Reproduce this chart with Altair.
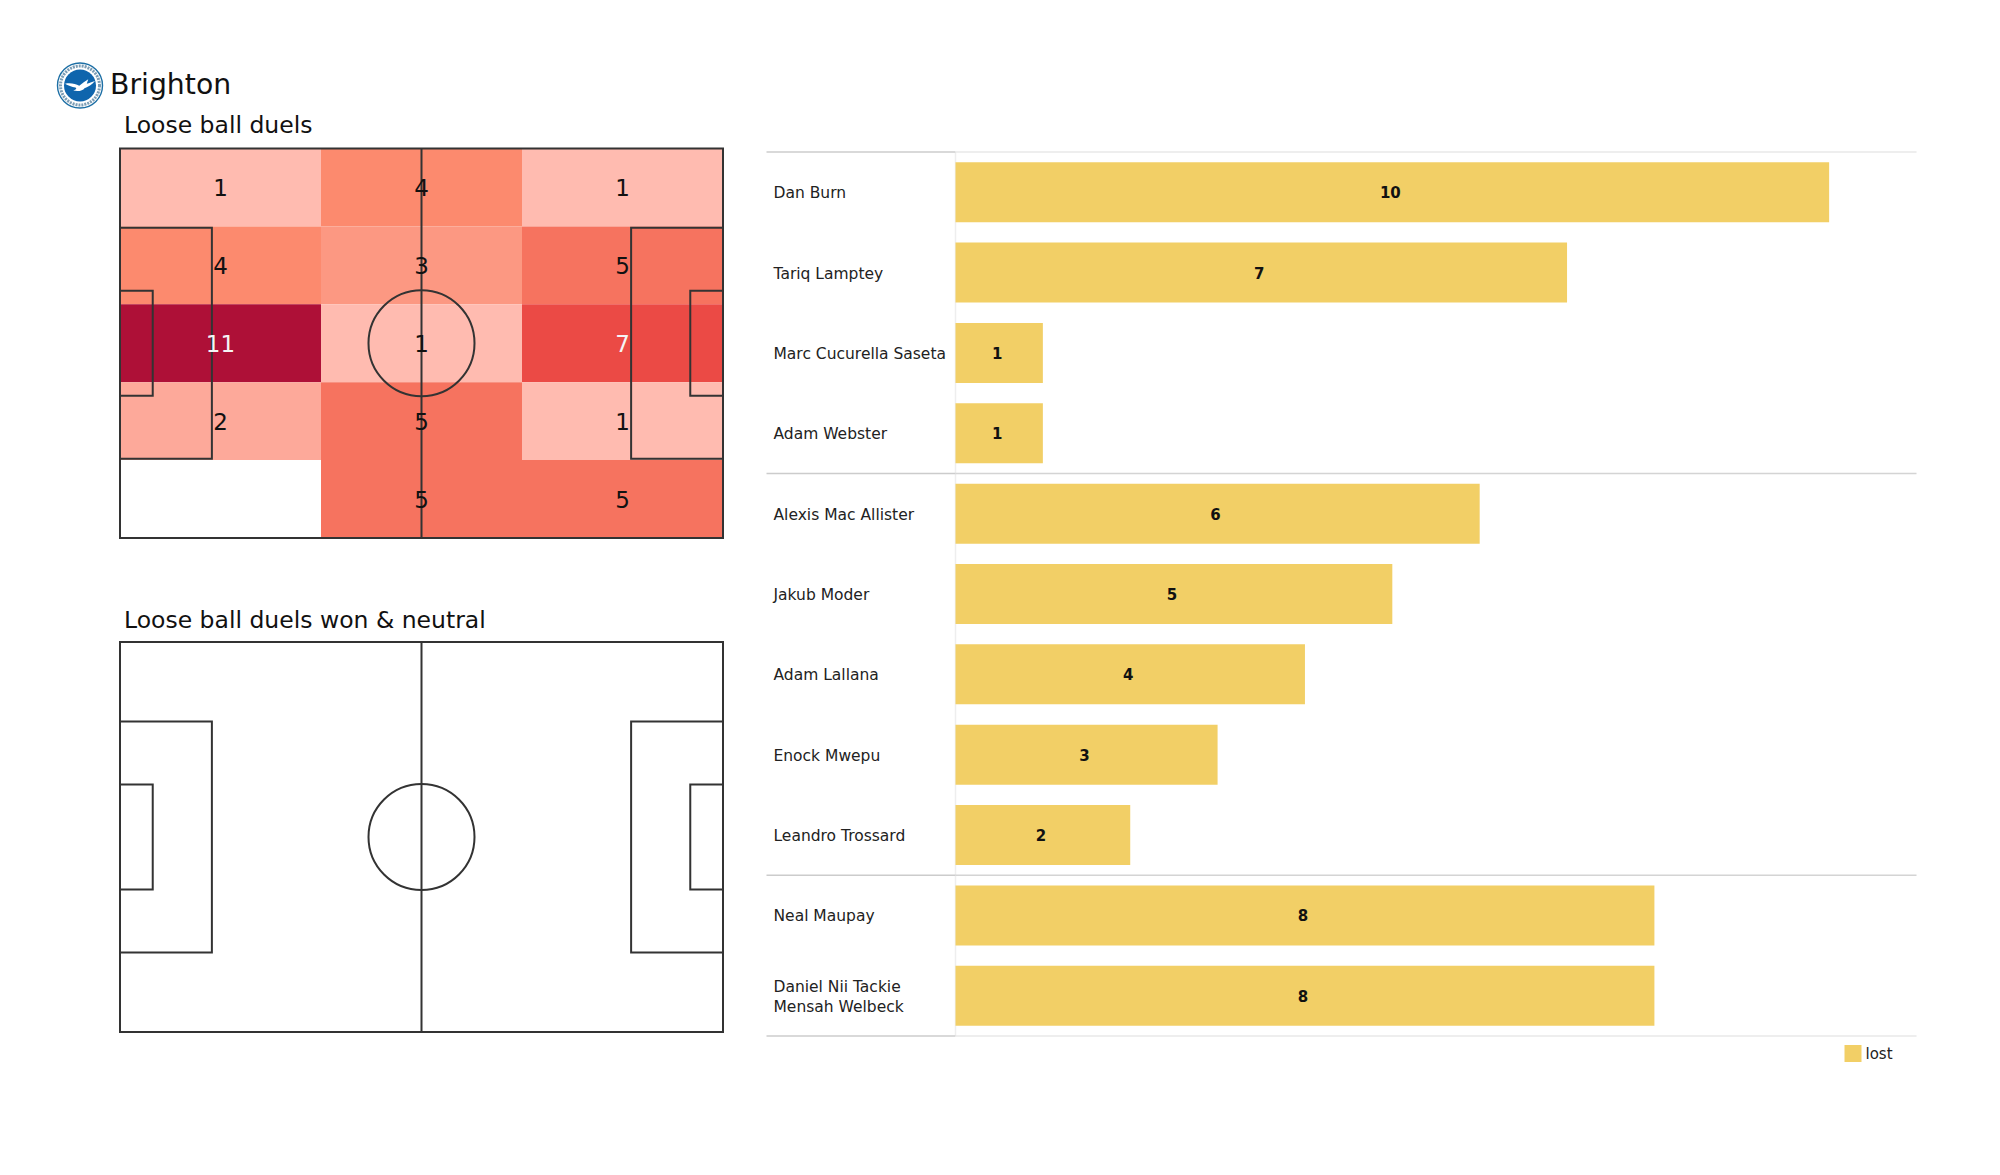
import altair as alt
import pandas as pd

FONT = "DejaVu Sans"
INK = "#333333"

# heat grid: rows top to bottom, columns left to right
cell_x0 = [0, 35, 70]
cell_x1 = [35, 70, 105]
cell_y1 = [68, 54.4, 40.8, 27.2, 13.6]
cell_y0 = [54.4, 40.8, 27.2, 13.6, 0]
row_counts = [
    [1, 4, 1],
    [4, 3, 5],
    [11, 1, 7],
    [2, 5, 1],
    [0, 5, 5],
]
heat_domain = [0, 1, 2, 3, 4, 5, 7, 11]
heat_colors = ["#ffffff", "#ffbbb0", "#fda99a", "#fc9882", "#fc8a6e", "#f6735f", "#eb4a45", "#ae1037"]

# pitch markings in metres
box_x0 = [0, 0, 0, 89, 99.3]
box_x1 = [105, 16, 5.7, 105, 105]
box_y0 = [0, 13.84, 24.84, 13.84, 24.84]
box_y1 = [68, 54.16, 43.16, 54.16, 43.16]

# bars
players = ["Dan Burn", "Tariq Lamptey", "Marc Cucurella Saseta", "Adam Webster",
           "Alexis Mac Allister", "Jakub Moder", "Adam Lallana", "Enock Mwepu",
           "Leandro Trossard", "Neal Maupay", "Daniel Nii Tackie\nMensah Welbeck"]
lost = [10, 7, 1, 1, 6, 5, 4, 3, 2, 8, 8]
BAR_COLOR = "#f2cf66"
inner_separators = [4, 9]
outer_separators = [0, 11]

cells = pd.DataFrame([
    {"x0": cell_x0[c], "x1": cell_x1[c], "y0": cell_y0[r], "y1": cell_y1[r],
     "xm": (cell_x0[c] + cell_x1[c]) / 2, "ym": (cell_y0[r] + cell_y1[r]) / 2,
     "n": row_counts[r][c], "label": str(row_counts[r][c]) if row_counts[r][c] else ""}
    for r in range(5) for c in range(3)
])
boxes = pd.DataFrame({"x0": box_x0, "x1": box_x1, "y0": box_y0, "y1": box_y1})
PX = alt.Scale(domain=[0, 105], range=[112, 715])


def pitch(py_top, py_bottom):
    py = alt.Scale(domain=[0, 68], range=[py_bottom, py_top])
    x = lambda f: alt.X(f, type="quantitative", scale=PX, axis=None)
    y = lambda f: alt.Y(f, type="quantitative", scale=py, axis=None)
    rects = alt.Chart(boxes).mark_rect(fillOpacity=0, stroke=INK, strokeWidth=2).encode(
        x=x("x0"), x2="x1", y=y("y0"), y2="y1")
    mid = alt.Chart(pd.DataFrame({"x": [52.5], "a": [0], "b": [68]})).mark_rule(
        stroke=INK, strokeWidth=2).encode(x=x("x"), y=y("a"), y2="b")
    circle = alt.Chart(pd.DataFrame({"x": [52.5], "y": [34]})).mark_point(
        shape="circle", size=11236, filled=False, stroke=INK, strokeWidth=2, opacity=1).encode(
        x=x("x"), y=y("y"))
    return rects, mid, circle, x, y


def label(text, px, py, size):
    return alt.Chart(pd.DataFrame({"t": [text]})).mark_text(
        font=FONT, fontSize=size, align="left", baseline="middle", color="#111111"
    ).encode(x=alt.value(px), y=alt.value(py), text="t:N")


def logo_disc(r, **kw):
    return alt.Chart(pd.DataFrame({"k": [0]})).mark_point(
        shape="circle", size=4 * r * r, opacity=1, **kw
    ).encode(x=alt.value(72), y=alt.value(77.5))


GULL = ("M-1,-0.12 C-0.6,-0.2 -0.3,-0.1 -0.05,0.02 C0.15,-0.15 0.35,-0.3 0.55,-0.42 "
        "L0.45,-0.12 C0.6,-0.16 0.8,-0.24 1,-0.3 C0.8,-0.05 0.55,0.1 0.3,0.18 "
        "C0.2,0.34 -0.1,0.42 -0.45,0.34 C-0.25,0.28 -0.2,0.2 -0.3,0.14 C-0.55,0.08 -0.8,0 -1,-0.12 Z")

logo = [
    logo_disc(22.5, fill="#ffffff", stroke="#1d6fa5", strokeWidth=1.4),
    logo_disc(19.5, filled=False, stroke="#7c9db5", strokeWidth=3, strokeDash=[2, 1]),
    logo_disc(16, fill="#0f65ad", stroke="#0f65ad", strokeWidth=0),
    alt.Chart(pd.DataFrame({"k": [0]})).mark_point(
        shape=GULL, size=900, fill="#ffffff", opacity=1, strokeWidth=0
    ).encode(x=alt.value(72), y=alt.value(77.5)),
]

r1, m1, c1, x1, y1 = pitch(140.5, 530)
heat = alt.Chart(cells).mark_rect(strokeWidth=0).encode(
    x=x1("x0"), x2="x1", y=y1("y0"), y2="y1",
    color=alt.Color("n:O", scale=alt.Scale(domain=heat_domain, range=heat_colors), legend=None),
)
numbers = alt.Chart(cells).mark_text(font=FONT, fontSize=23, baseline="middle", dy=2).encode(
    x=x1("xm"), y=y1("ym"), text="label:N",
    color=alt.condition("datum.n >= 7", alt.value("#f5f5f5"), alt.value("#111111")),
)
panel1 = alt.layer(
    *logo,
    label("Brighton", 102, 77.5, 28.3),
    label("Loose ball duels", 116, 118, 23.5),
    heat, r1, m1, c1, numbers,
).properties(width=730, height=562)

r2, m2, c2, _, _ = pitch(72, 462)
panel2 = alt.layer(
    label("Loose ball duels won & neutral", 116, 51, 23.5),
    r2, m2, c2,
).properties(width=730, height=480)

bars_df = pd.DataFrame({"player": players, "lost": lost, "outcome": ["lost"] * len(lost),
                        "half": [v / 2 for v in lost]})
BAND = alt.Scale(domain=players, range=[144, 1028], paddingInner=0.253, paddingOuter=0.127)
BX = alt.Scale(domain=[0, 11], range=[0, 961])
SEP = alt.Scale(domain=[0, 11], range=[144, 1028])


def sep_rule(values, left, right, color, width):
    return alt.Chart(pd.DataFrame({"s": values})).mark_rule(stroke=color, strokeWidth=width).encode(
        x=alt.value(left), x2=alt.value(right), y=alt.Y("s:Q", scale=SEP, axis=None))


bars = alt.Chart(bars_df).mark_bar(strokeWidth=0).encode(
    x=alt.X("lost:Q", scale=BX, axis=None),
    y=alt.Y("player:N", sort=players, scale=BAND, axis=alt.Axis(
        title=None, domain=False, ticks=False, grid=False, labelAlign="left", labelPadding=182.5,
        labelFont=FONT, labelFontSize=15.5, labelColor="#222222", labelLimit=300, labelLineHeight=20,
        labelOffset={"condition": {"test": "indexof(datum.value, '\\n') >= 0", "value": -9}, "value": 1},
        labelExpr="split(datum.label, '\\n')")),
    color=alt.Color("outcome:N", scale=alt.Scale(domain=["lost"], range=[BAR_COLOR]), legend=alt.Legend(
        title=None, orient="none", legendX=889, legendY=1037, symbolType="square", symbolSize=289,
        symbolStrokeWidth=0, labelFont=FONT, labelFontSize=15, labelColor="#222222", padding=0)),
)
bar_text = alt.Chart(bars_df).mark_text(
    font=FONT, fontSize=15, fontWeight="bold", baseline="middle", color="#111111", dx=-2, dy=1
).encode(
    x=alt.X("half:Q", scale=BX, axis=None),
    y=alt.Y("player:N", sort=players, scale=BAND, axis=None),
    text="lost:Q",
)
axis_line = alt.Chart(pd.DataFrame({"a": [0], "b": [11]})).mark_rule(stroke="#eeeeee", strokeWidth=1.5).encode(
    x=alt.value(0), y=alt.Y("a:Q", scale=SEP, axis=None), y2="b")

panel3 = alt.layer(
    axis_line,
    sep_rule(inner_separators + outer_separators, -189, 0, "#cccccc", 1.6),
    sep_rule(inner_separators, 0, 961, "#d4d4d4", 1.6),
    sep_rule(outer_separators, 0, 961, "#e8e8e8", 1.6),
    bars, bar_text,
).resolve_scale(y="independent").properties(width=961, height=1040)

chart = alt.hconcat(
    alt.vconcat(panel1, panel2, spacing=0),
    panel3,
    spacing=27.5,
).resolve_scale(color="independent").properties(
    padding=0, background="#ffffff"
).configure_view(stroke=None)

chart.save("out.html", embed_options={"renderer": "svg", "actions": False})
